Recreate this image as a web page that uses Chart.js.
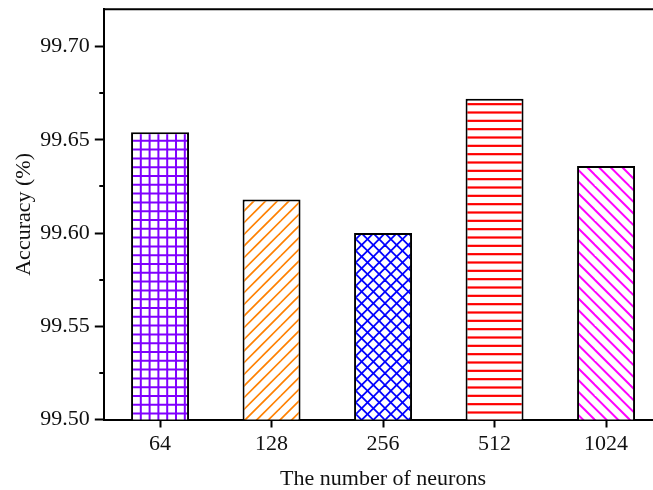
<!DOCTYPE html>
<html>
<head>
<meta charset="utf-8">
<script src="https://cdn.jsdelivr.net/npm/chart.js@4"></script>
<style>
  html, body { margin: 0; padding: 0; background: #fff; overflow: hidden; }
  #wrap { width: 653px; height: 490px; overflow: hidden; position: relative; background: #fff; }
  canvas { display: block; }
</style>
</head>
<body>
<div id="wrap"><canvas id="chart" width="680" height="490"></canvas></div>
<script>
// Accuracy vs. hidden-layer size
const categories = ['64', '128', '256', '512', '1024'];
const accuracy = [99.654, 99.618, 99.600, 99.672, 99.636];
const yMajorTicks = [99.50, 99.55, 99.60, 99.65, 99.70];
const yMinorTicks = [99.525, 99.575, 99.625, 99.675];
const yMin = 99.50;
const yMax = 99.72;
const barColors = ['#8000ff', '#ff8000', '#0000ff', '#ff0000', '#ff00ff'];
const hatchKinds = ['grid', 'forward', 'cross', 'horizontal', 'backward'];

const W = 680, H = 490;
const plotLeft = 104.3, plotRight = 661.8, plotTop = 9.3, plotBottom = 419.5;

// Build a repeating hatch fill for a bar
function makeHatch(kind, color) {
  const tile = document.createElement('canvas');
  let T;
  if (kind === 'grid') T = 44;
  else if (kind === 'horizontal') T = 25;
  else T = 35;
  tile.width = T; tile.height = T;
  const g = tile.getContext('2d');
  g.fillStyle = '#fff';
  g.fillRect(0, 0, T, T);
  g.strokeStyle = color;
  g.lineCap = 'butt';
  if (kind === 'grid') {
    const p = T / 5;
    g.lineWidth = 2;
    for (let k = 0; k <= 5; k++) {
      g.beginPath(); g.moveTo(k * p, 0); g.lineTo(k * p, T); g.stroke();
      g.beginPath(); g.moveTo(0, k * p); g.lineTo(T, k * p); g.stroke();
    }
  } else if (kind === 'horizontal') {
    const p = T / 3;
    g.lineWidth = 2.2;
    for (let k = 0; k <= 3; k++) {
      g.beginPath(); g.moveTo(0, k * p + p / 2); g.lineTo(T, k * p + p / 2); g.stroke();
    }
  } else {
    const p = T / 3;
    g.lineWidth = kind === 'cross' ? 1.8 : (kind === 'forward' ? 1.7 : 2);
    if (kind === 'forward' || kind === 'cross') {
      for (let k = -3; k <= 9; k++) {
        const c = k * p;
        g.beginPath(); g.moveTo(c + T, -T); g.lineTo(c - 2 * T, 2 * T); g.stroke();
      }
    }
    if (kind === 'backward' || kind === 'cross') {
      for (let k = -6; k <= 6; k++) {
        const c = k * p;
        g.beginPath(); g.moveTo(c - T, -T); g.lineTo(c + 2 * T, 2 * T); g.stroke();
      }
    }
  }
  return g.createPattern(tile, 'repeat');
}

const fills = hatchKinds.map((k, i) => makeHatch(k, barColors[i]));

// Frame line along the top and right of the plot area
const framePlugin = {
  id: 'frame',
  afterDraw(chart) {
    const { ctx, chartArea: a } = chart;
    ctx.save();
    ctx.strokeStyle = '#000';
    ctx.lineWidth = 2;
    ctx.beginPath();
    ctx.moveTo(a.left - 1, a.top);
    ctx.lineTo(a.right, a.top);
    ctx.lineTo(a.right, a.bottom);
    ctx.stroke();
    ctx.restore();
  }
};

// Short outward minor ticks on the value axis
const minorTickPlugin = {
  id: 'minorTicks',
  afterDraw(chart) {
    const { ctx, chartArea: a } = chart;
    const y = chart.scales.y;
    ctx.save();
    ctx.strokeStyle = '#000';
    ctx.lineWidth = 2;
    yMinorTicks.forEach(v => {
      const py = Math.round(y.getPixelForValue(v));
      ctx.beginPath();
      ctx.moveTo(a.left - 5, py);
      ctx.lineTo(a.left, py);
      ctx.stroke();
    });
    ctx.restore();
  }
};

Chart.defaults.font.family = '"Liberation Serif", "Times New Roman", serif';
Chart.defaults.font.size = 22;
Chart.defaults.color = '#111';

new Chart(document.getElementById('chart'), {
  type: 'bar',
  data: {
    labels: categories,
    datasets: [{
      data: accuracy,
      backgroundColor: fills,
      borderColor: '#000',
      borderWidth: 2,
      borderSkipped: false,
      barPercentage: 0.52,
      categoryPercentage: 1.0
    }]
  },
  options: {
    responsive: false,
    animation: false,
    devicePixelRatio: 1,
    layout: { padding: { left: 0, right: W - plotRight, top: plotTop, bottom: 0 } },
    plugins: { legend: { display: false }, tooltip: { enabled: false } },
    scales: {
      x: {
        offset: true,
        grid: { display: true, offset: false, drawOnChartArea: false, drawTicks: true,
                tickLength: 8, tickWidth: 2, tickColor: '#000' },
        border: { display: true, color: '#000', width: 2 },
        ticks: { padding: 4, color: '#111', font: { size: 22 } },
        title: { display: true, text: 'The number of neurons', color: '#111',
                 font: { size: 22, lineHeight: 1 }, padding: { top: 0, bottom: 0 } },
        afterFit: s => {
          s.height = H - plotBottom;
          s.paddingLeft = 0; s.paddingRight = 0;
        }
      },
      y: {
        min: yMin,
        max: yMax,
        afterBuildTicks: s => { s.ticks = yMajorTicks.map(v => ({ value: v })); },
        grid: { display: true, drawOnChartArea: false, drawTicks: true,
                tickLength: 9.5, tickWidth: 2, tickColor: '#000' },
        border: { display: true, color: '#000', width: 2 },
        ticks: { padding: 5, color: '#111', font: { size: 22 },
                 callback: v => Number(v).toFixed(2) },
        title: { display: true, text: 'Accuracy (%)', color: '#111',
                 font: { size: 22, lineHeight: 1 }, padding: { top: 13, bottom: 0 } },
        afterFit: s => {
          s.width = plotLeft;
          s.paddingTop = 0; s.paddingBottom = 0;
        }
      }
    }
  },
  plugins: [framePlugin, minorTickPlugin]
});
</script>
</body>
</html>
